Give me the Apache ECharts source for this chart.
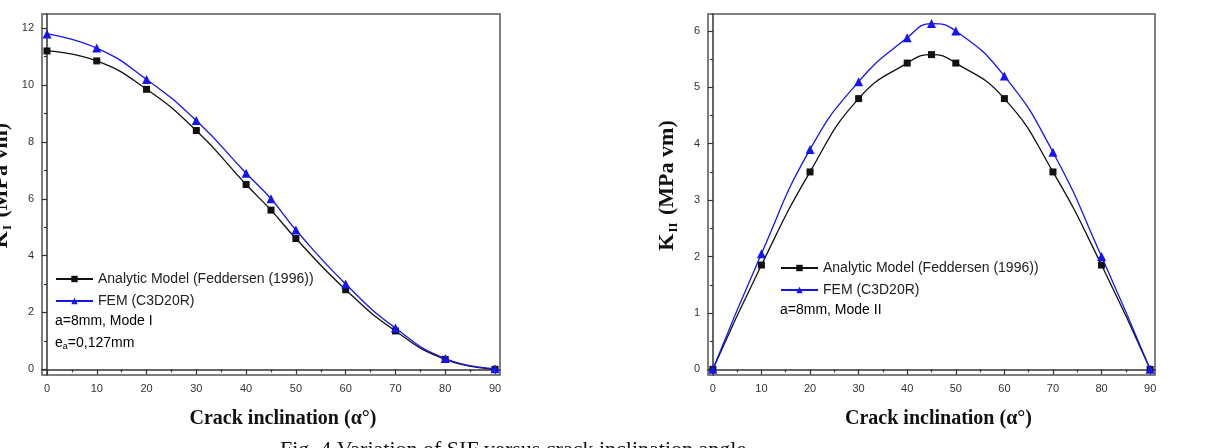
<!DOCTYPE html>
<html>
<head>
<meta charset="utf-8">
<script src="https://cdn.jsdelivr.net/npm/echarts@6/dist/echarts.min.js"></script>
<style>
  html, body { margin: 0; padding: 0; background: #fff; }
  #chart { width: 1213px; height: 448px; }
</style>
</head>
<body>
<div id="chart"></div>
<script>
// crack inclination angles (deg)
const angles = [0, 10, 20, 30, 40, 45, 50, 60, 70, 80, 90];

// Mode I, K_I (MPa vm)
const kIAnalytic = [11.2, 10.85, 9.85, 8.4, 6.5, 5.6, 4.6, 2.8, 1.35, 0.35, 0];
const kIFem = [11.8, 11.3, 10.2, 8.75, 6.9, 6.0, 4.9, 3.0, 1.45, 0.38, 0.02];

// Mode II, K_II (MPa vm)
const kIIAnalytic = [0, 1.85, 3.5, 4.8, 5.43, 5.58, 5.43, 4.8, 3.5, 1.85, 0];
const kIIFem = [0, 2.05, 3.9, 5.1, 5.88, 6.13, 6.0, 5.2, 3.85, 2.0, 0];

// tick values
const xMajor = [0, 10, 20, 30, 40, 50, 60, 70, 80, 90];
const xMinor = [5, 15, 25, 35, 45, 55, 65, 75, 85];
const yIMajor = [0, 2, 4, 6, 8, 10, 12];
const yIMinor = [1, 3, 5, 7, 9, 11];
const yIIMajor = [0, 1, 2, 3, 4, 5, 6];
const yIIMinor = [0.5, 1.5, 2.5, 3.5, 4.5, 5.5];

const seriesNames = ["Analytic Model (Feddersen (1996))", "FEM (C3D20R)"];

const chart = echarts.init(document.getElementById("chart"));

const axisColor = "#333";
const labelStyle = { fontFamily: "Arial, Liberation Sans", fontSize: 11, color: "#333" };
const titleFont = { fontFamily: "Times New Roman, Liberation Serif", fontSize: 20, fontWeight: "bold", color: "#111" };
const yTitleFont = Object.assign({}, titleFont, { fontSize: 22 });

function xAxes(gridIndex, shift) {
  return [
    {
      gridIndex: gridIndex,
      type: "value",
      min: -1,
      max: 91,
      name: "Crack inclination (\u03b1\u00b0)",
      nameLocation: "middle",
      nameGap: 34,
      nameTextStyle: Object.assign({ padding: [0, 0, 0, shift] }, titleFont),
      splitLine: { show: false },
      axisLine: { lineStyle: { color: axisColor, width: 1.5 } },
      axisTick: { inside: false, length: 5, lineStyle: { color: axisColor, width: 1.2 }, customValues: xMajor },
      axisLabel: Object.assign({ margin: 8, customValues: xMajor }, labelStyle),
    },
    {
      gridIndex: gridIndex,
      type: "value",
      position: "bottom",
      min: -1,
      max: 91,
      splitLine: { show: false },
      axisLine: { show: false },
      axisTick: { inside: false, length: 3, lineStyle: { color: axisColor, width: 1.2 }, customValues: xMinor },
      axisLabel: { show: false },
    },
  ];
}

function yAxes(gridIndex, min, max, major, minor, sub) {
  return [
    {
      gridIndex: gridIndex,
      type: "value",
      min: min,
      max: max,
      name: "{k|K}{s|" + sub + "}{k| (MPa vm)}",
      nameLocation: "middle",
      nameGap: 28,
      nameRotate: 90,
      nameTextStyle: {
        padding: [0, 0, 0, 18],
        rich: {
          k: yTitleFont,
          s: Object.assign({}, yTitleFont, { fontSize: 13, padding: [13, 2, 0, 1] }),
        },
      },
      splitLine: { show: false },
      axisLine: { show: true, lineStyle: { color: axisColor, width: 1.5 } },
      axisTick: { inside: false, length: 5, lineStyle: { color: axisColor, width: 1.2 }, customValues: major },
      axisLabel: Object.assign({ margin: 8, customValues: major }, labelStyle),
    },
    {
      gridIndex: gridIndex,
      type: "value",
      position: "left",
      min: min,
      max: max,
      splitLine: { show: false },
      axisLine: { show: false },
      axisTick: { inside: false, length: 3, lineStyle: { color: axisColor, width: 1.2 }, customValues: minor },
      axisLabel: { show: false },
    },
  ];
}

function lineSeries(name, xIdx, yIdx, ys, color, symbol, size) {
  return {
    name: name,
    type: "line",
    xAxisIndex: xIdx,
    yAxisIndex: yIdx,
    data: angles.map((a, i) => [a, ys[i]]),
    smooth: 0.5,
    symbol: symbol,
    symbolSize: size,
    showAllSymbol: true,
    lineStyle: { color: color, width: 1.3 },
    itemStyle: { color: color },
    emphasis: { disabled: true },
    z: symbol === "triangle" ? 3 : 2,
  };
}

const legendText = { fontFamily: "Arial, Liberation Sans", fontSize: 14, color: "#222" };

const option = {
  backgroundColor: "#fff",
  animation: false,
  grid: [
    { left: 42, top: 14, width: 458, height: 361, show: true, borderColor: "#555", borderWidth: 1.5, outerBoundsMode: "none" },
    { left: 708, top: 14, width: 447, height: 361, show: true, borderColor: "#555", borderWidth: 1.5, outerBoundsMode: "none" },
  ],
  xAxis: xAxes(0, 24).concat(xAxes(1, 14)),
  yAxis: yAxes(0, -0.2, 12.5, yIMajor, yIMinor, "I").concat(yAxes(1, -0.1, 6.3, yIIMajor, yIIMinor, "II")),
  legend: [
    {
      left: 50, top: 267, orient: "vertical", itemGap: 8, itemWidth: 37, itemHeight: 8,
      textStyle: legendText, data: seriesNames, selectedMode: false,
    },
    {
      left: 775, top: 256, orient: "vertical", itemGap: 8, itemWidth: 37, itemHeight: 8,
      textStyle: legendText, data: seriesNames, selectedMode: false,
    },
  ],
  series: [
    lineSeries(seriesNames[0], 0, 0, kIAnalytic, "#111", "rect", 7),
    lineSeries(seriesNames[1], 0, 0, kIFem, "#1515f0", "triangle", 9),
    lineSeries(seriesNames[0], 2, 2, kIIAnalytic, "#111", "rect", 7),
    lineSeries(seriesNames[1], 2, 2, kIIFem, "#1515f0", "triangle", 9),
  ],
  graphic: [
    { type: "text", left: 55, top: 314, style: Object.assign({ text: "a=8mm, Mode I" }, legendText) },
    {
      type: "text", left: 55, top: 336,
      style: {
        text: "{t|e}{s|a}{t|=0,127mm}",
        rich: { t: legendText, s: Object.assign({}, legendText, { fontSize: 9, padding: [8, 0, 0, 0] }) },
      },
    },
    { type: "text", left: 780, top: 303, style: Object.assign({ text: "a=8mm, Mode II" }, legendText) },
    {
      type: "text", left: 280, top: 439,
      style: { text: "Fig. 4 Variation of SIF versus crack inclination angle", fontFamily: "Times New Roman, Liberation Serif", fontSize: 22, fill: "#111" },
    },
  ],
};

chart.setOption(option);
</script>
</body>
</html>
